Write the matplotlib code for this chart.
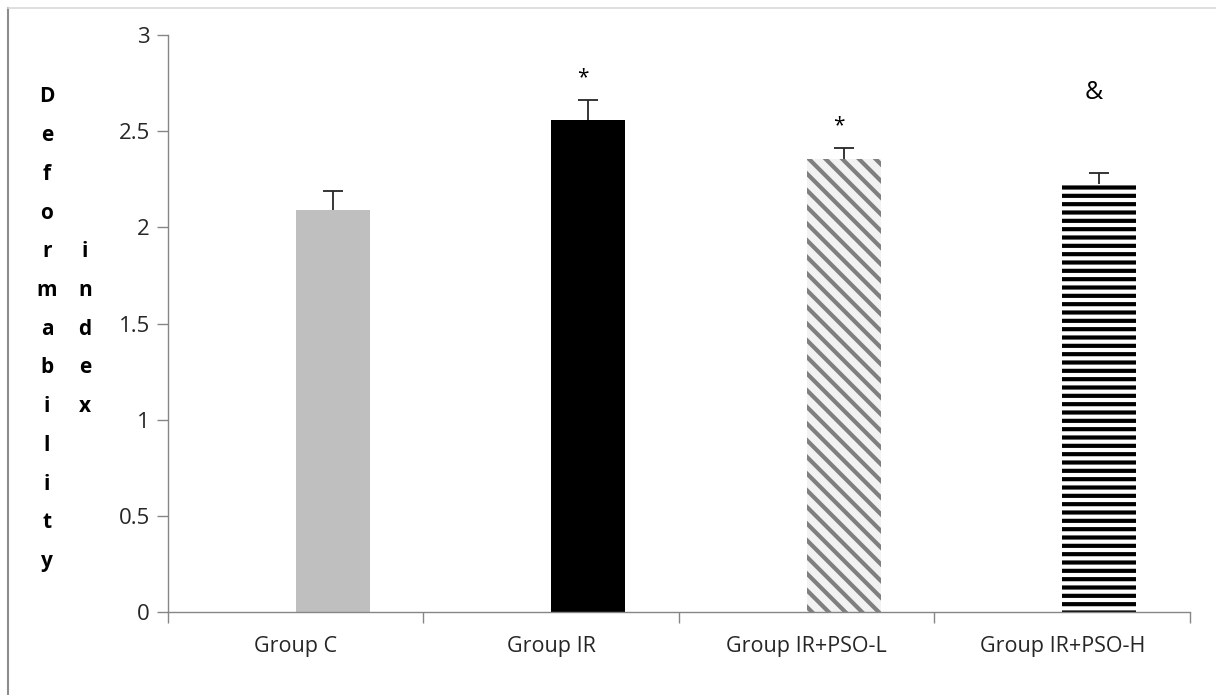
import numpy as np
import matplotlib
matplotlib.use("Agg")
import matplotlib.pyplot as plt
from matplotlib.lines import Line2D

groups = ["Group C", "Group IR", "Group IR+PSO-L", "Group IR+PSO-H"]
means = [2.09, 2.56, 2.355, 2.225]
errs = [0.10, 0.10, 0.056, 0.056]
marks = ["", "*", "*", "&"]
mark_y = [None, 2.78, 2.53, 2.70]

plt.rcParams['font.family'] = ['Open Sans', 'DejaVu Sans']
plt.rcParams['hatch.linewidth'] = 3.0

fig = plt.figure(figsize=(12.16, 6.95), dpi=100)
ax = fig.add_axes([0.138, 0.1194, 0.8406, 0.8302])

x = np.arange(len(groups))
w = 0.29
face = ["#bfbfbf", "#000000", "#f2f2f2", "#ffffff"]
hatch_col = ["#bfbfbf", "#000000", "#7f7f7f", "#000000"]
hatches = [None, None, "\\\\", "--"]

for i in range(len(groups)):
    ax.bar(x[i], means[i], width=w, align='edge', color=face[i],
           edgecolor=hatch_col[i], linewidth=0, hatch=hatches[i], zorder=2)
    # upper-only error bar with a single cap
    xc = x[i] + w / 2
    ax.errorbar(xc, means[i], yerr=[[0], [errs[i]]], fmt='none',
                ecolor="#262626", elinewidth=1.3, capsize=0, zorder=3)
    ax.plot(xc, means[i] + errs[i], marker='_', markersize=15, mew=1.3,
            color="#262626", zorder=3)
    if marks[i]:
        ax.text(xc - 0.02, mark_y[i], marks[i], ha='center', va='center',
                fontsize=18 if marks[i] == "&" else 15, color="#000000")

ax.set_xlim(-0.5, 3.5)
ax.set_ylim(0, 3)
ax.set_yticks(np.arange(0, 3.01, 0.5))
ax.set_yticklabels(["0", "0.5", "1", "1.5", "2", "2.5", "3"])
ax.set_xticks(x)
ax.set_xticklabels(groups)
ax.set_xticks(np.arange(-0.5, 3.6, 1), minor=True)
ax.tick_params(axis='x', which='major', length=0, pad=17, labelsize=15.5, labelcolor="#262626")
ax.tick_params(axis='x', which='minor', length=8, width=1, color="#868686", direction='out')
ax.tick_params(axis='y', length=8, width=1, color="#868686", pad=5, labelsize=16, labelcolor="#262626")

for s in ['top', 'right']:
    ax.spines[s].set_visible(False)
for s in ['left', 'bottom']:
    ax.spines[s].set_color("#868686")
    ax.spines[s].set_linewidth(1)

# stacked vertical axis title
word1 = "Deformability"
word2 = "index"
row_top = 1 - 97 / 695
row_step = 38.7 / 695
for k, ch in enumerate(word1):
    fig.text(47 / 1216, row_top - k * row_step, ch, ha='center', va='center',
             fontsize=15, fontweight='bold')
for k, ch in enumerate(word2):
    fig.text(85 / 1216, row_top - (k + 4) * row_step, ch, ha='center', va='center',
             fontsize=15, fontweight='bold')

# chart frame edges
fig.add_artist(Line2D([8 / 1216, 8 / 1216], [0, 1 - 8 / 695], color="#8c8c8c", lw=1.5))
fig.add_artist(Line2D([8 / 1216, 1], [1 - 8 / 695, 1 - 8 / 695], color="#d9d9d9", lw=1.2))

fig.savefig("out.png", dpi=100)
